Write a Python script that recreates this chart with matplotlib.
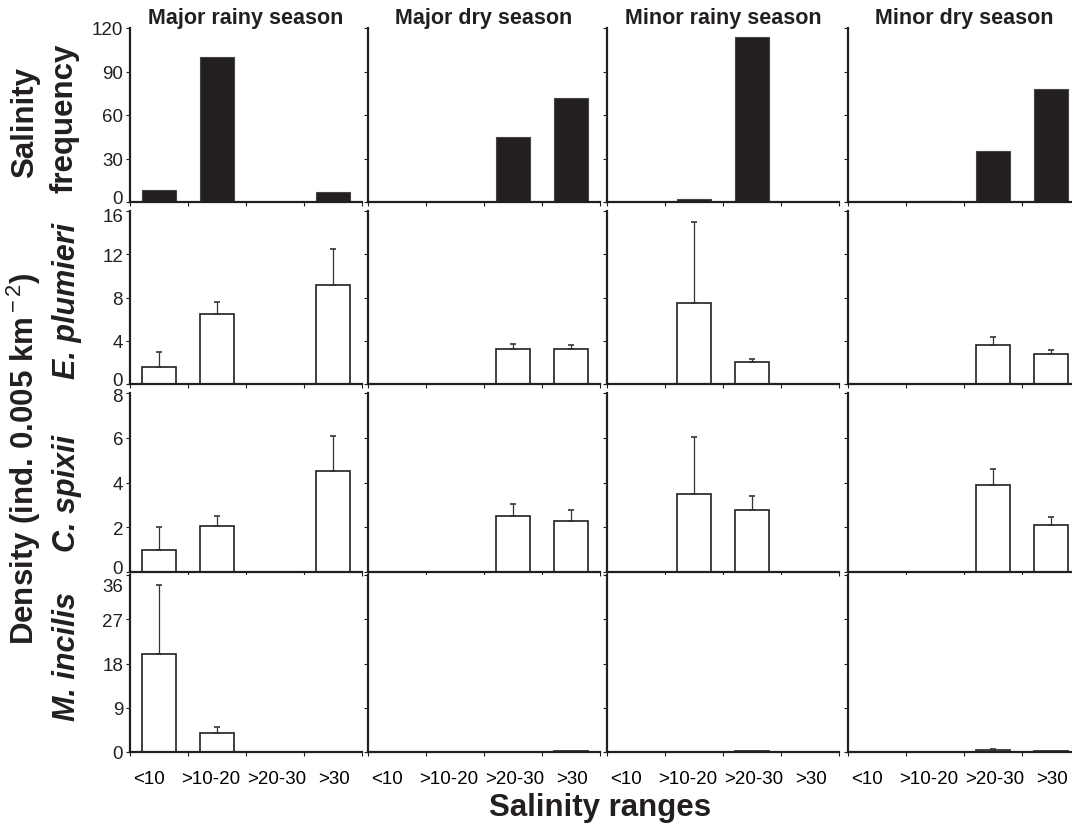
import numpy as np
import matplotlib
matplotlib.use("Agg")
import matplotlib.pyplot as plt
from matplotlib.transforms import ScaledTranslation

plt.rcParams['font.family'] = ['Liberation Sans', 'DejaVu Sans']
plt.rcParams['mathtext.fontset'] = 'custom'
plt.rcParams['mathtext.rm'] = 'Liberation Sans'
plt.rcParams['mathtext.it'] = 'Liberation Sans:italic'
plt.rcParams['mathtext.bf'] = 'Liberation Sans:bold'

# salinity classes and seasons
categories = ["<10", ">10-20", ">20-30", ">30"]
seasons = ["Major rainy season", "Major dry season", "Minor rainy season", "Minor dry season"]

# salinity frequency (row 1)
freq_major_rainy = [8, 100, 0, 7]
freq_major_dry = [0, 0, 45, 72]
freq_minor_rainy = [0, 2, 114, 0]
freq_minor_dry = [0, 1, 35, 78]

# E. plumieri density, mean and upper error
plum_major_rainy = [1.55, 6.45, 0, 9.15]
plum_major_dry = [0, 0, 3.2, 3.25]
plum_minor_rainy = [0, 7.5, 2.0, 0]
plum_minor_dry = [0, 0, 3.65, 2.75]
plum_err_major_rainy = [1.45, 1.1, 0, 3.3]
plum_err_major_dry = [0, 0, 0.5, 0.4]
plum_err_minor_rainy = [0, 7.5, 0.35, 0]
plum_err_minor_dry = [0, 0, 0.7, 0.4]

# C. spixii density
spix_major_rainy = [1.0, 2.05, 0, 4.5]
spix_major_dry = [0, 0, 2.5, 2.3]
spix_minor_rainy = [0, 3.5, 2.75, 0]
spix_minor_dry = [0, 0, 3.9, 2.1]
spix_err_major_rainy = [1.0, 0.45, 0, 1.6]
spix_err_major_dry = [0, 0, 0.55, 0.45]
spix_err_minor_rainy = [0, 2.55, 0.65, 0]
spix_err_minor_dry = [0, 0, 0.7, 0.35]

# M. incilis density
inci_major_rainy = [20, 3.8, 0, 0]
inci_major_dry = [0, 0, 0.1, 0.2]
inci_minor_rainy = [0, 0, 0.2, 0]
inci_minor_dry = [0, 0, 0.4, 0.3]
inci_err_major_rainy = [14, 1.2, 0, 0]
inci_err_major_dry = [0, 0, 0, 0]
inci_err_minor_rainy = [0, 0, 0, 0]
inci_err_minor_dry = [0, 0, 0.2, 0]

species = ["E. plumieri", "C. spixii", "M. incilis"]

freq_rows = [freq_major_rainy, freq_major_dry, freq_minor_rainy, freq_minor_dry]
dens_rows = [
    ([plum_major_rainy, plum_major_dry, plum_minor_rainy, plum_minor_dry],
     [plum_err_major_rainy, plum_err_major_dry, plum_err_minor_rainy, plum_err_minor_dry]),
    ([spix_major_rainy, spix_major_dry, spix_minor_rainy, spix_minor_dry],
     [spix_err_major_rainy, spix_err_major_dry, spix_err_minor_rainy, spix_err_minor_dry]),
    ([inci_major_rainy, inci_major_dry, inci_minor_rainy, inci_minor_dry],
     [inci_err_major_rainy, inci_err_major_dry, inci_err_minor_rainy, inci_err_minor_dry]),
]
yticks_rows = [[0, 30, 60, 90, 120], [0, 4, 8, 12, 16], [0, 2, 4, 6, 8], [0, 9, 18, 27, 36]]

W, H = 1072, 828
fig = plt.figure(figsize=(W / 100, H / 100), dpi=100)
dark = '#231f20'

col_left = [130, 368, 607, 848]
col_w = 232
row_tb = [(29, 203), (212, 385), (394, 573), (576, 753)]
# nudges (px) for the top / bottom y tick labels, so they don't collide
top_shift = [0, -4, -2, -9]
bot_shift = [5, 5, 5, 0]
# small horizontal offsets of the x labels as in the original
xlab_shift = [-10, -6, 2, 1]

x = np.arange(4) + 0.5

def px(dx, dy):
    return ScaledTranslation(dx / 100, dy / 100, fig.dpi_scale_trans)

for r in range(4):
    for c in range(4):
        t, b = row_tb[r]
        ax = fig.add_axes([col_left[c] / W, 1 - b / H, col_w / W, (b - t) / H])
        if r == 0:
            ax.bar(x, freq_rows[c], width=0.57, color=dark, edgecolor='#444444', linewidth=0.8)
        else:
            means, errs = dens_rows[r - 1]
            m = np.array(means[c])
            e = np.array(errs[c])
            ax.bar(x, m, width=0.57, color='white', edgecolor=dark, linewidth=1.2)
            k = e > 0
            ax.errorbar(x[k], m[k], yerr=[np.zeros(k.sum()), e[k]], fmt='none',
                        ecolor='#333333', elinewidth=0.9, capsize=2.5, capthick=1.2)
        yt = yticks_rows[r]
        ax.set_ylim(0, yt[-1])
        ax.set_xlim(0, 4)
        ax.set_yticks(yt)
        ax.set_xticks(np.arange(5))
        ax.set_xticklabels([])
        for side in ['top', 'right']:
            ax.spines[side].set_visible(False)
        for side in ['left', 'bottom']:
            ax.spines[side].set_linewidth(1.6)
            ax.spines[side].set_color(dark)
        ax.tick_params(direction='out', length=3, width=0.8, colors=dark,
                       labelsize=13.5, pad=2)
        if c > 0:
            ax.set_yticklabels([])
        else:
            labs = ax.get_yticklabels()
            labs[-1].set_transform(labs[-1].get_transform() + px(0, top_shift[r]))
            labs[0].set_transform(labs[0].get_transform() + px(0, bot_shift[r]))
        if r == 0:
            ax.set_title(seasons[c], fontsize=15.5, fontweight='bold', pad=1.5, color=dark)
        if r == 3:
            ax.set_xticks(x, minor=True)
            ax.set_xticklabels(categories, minor=True)
            ax.tick_params(axis='x', which='minor', length=0, pad=13, labelsize=13.5)
            for lbl, dx in zip(ax.get_xticklabels(minor=True), xlab_shift):
                lbl.set_transform(lbl.get_transform() + px(dx, 0))

fig.text(25 / W, 1 - 123 / H, "Salinity", rotation=90, ha='center', va='center',
         fontsize=22.5, fontweight='bold', color=dark)
fig.text(64 / W, 1 - 118 / H, "frequency", rotation=90, ha='center', va='center',
         fontsize=22.5, fontweight='bold', color=dark)
fig.text(24 / W, 1 - 459 / H, r"Density (ind. 0.005 km$^{\rm -2}$)", rotation=90,
         ha='center', va='center', fontsize=22.5, fontweight='bold', color=dark)
species_y = [301, 493, 657]
for s, yy in zip(species, species_y):
    fig.text(67 / W, 1 - yy / H, s, rotation=90, ha='center', va='center',
             fontsize=22, fontweight='bold', style='italic', color=dark)
fig.text(600 / W, 1 - 816 / H, "Salinity ranges", ha='center', va='baseline',
         fontsize=22.5, fontweight='bold', color=dark)

fig.savefig("out.png", dpi=100)
